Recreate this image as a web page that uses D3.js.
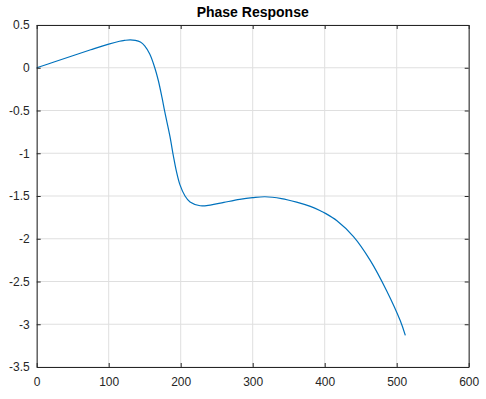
<!DOCTYPE html>
<html>
<head>
<meta charset="utf-8">
<script src="https://cdn.jsdelivr.net/npm/d3@7"></script>
<style>
  html, body { margin: 0; padding: 0; background: #fff; }
  svg { display: block; font-family: "Liberation Sans", Arial, sans-serif; }
</style>
</head>
<body>
<svg id="chart" width="486" height="399"></svg>
<script>
// frequency bin (x) and phase in radians (y)
const bins = [0, 25, 50, 75, 100, 115, 122, 130, 137, 144, 150, 157, 164, 169, 174, 178, 185, 190, 194, 199, 206, 213, 227, 241, 260, 282, 300, 317, 340, 361, 380, 394, 401, 417, 440, 463, 486, 505, 512];
const phase = [0, 0.07, 0.14, 0.21, 0.277, 0.31, 0.32, 0.327, 0.32, 0.30, 0.257, 0.16, 0.0, -0.152, -0.347, -0.52, -0.80, -1.04, -1.21, -1.37, -1.50, -1.57, -1.614, -1.606, -1.575, -1.54, -1.52, -1.509, -1.53, -1.572, -1.622, -1.673, -1.703, -1.79, -1.975, -2.25, -2.608, -2.96, -3.13];
const xTicks = [0, 100, 200, 300, 400, 500, 600];
const yTicks = [0.5, 0, -0.5, -1, -1.5, -2, -2.5, -3, -3.5];
const title = "Phase Response";

const margin = {left: 36.7, top: 25, right: 486 - 468.7, bottom: 399 - 367};
const width = 486 - margin.left - margin.right;
const height = 399 - margin.top - margin.bottom;

const svg = d3.select("#chart");
const g = svg.append("g").attr("transform", `translate(${margin.left},${margin.top})`);

const x = d3.scaleLinear().domain([0, 600]).range([0, width]);
const y = d3.scaleLinear().domain([-3.5, 0.5]).range([height, 0]);

// grid
g.append("g").selectAll("line").data(xTicks).enter().append("line")
  .attr("x1", d => x(d)).attr("x2", d => x(d))
  .attr("y1", 0).attr("y2", height)
  .attr("stroke", "#dfdfdf").attr("stroke-width", 1);
g.append("g").selectAll("line").data(yTicks).enter().append("line")
  .attr("x1", 0).attr("x2", width)
  .attr("y1", d => y(d)).attr("y2", d => y(d))
  .attr("stroke", "#dfdfdf").attr("stroke-width", 1);

// curve
const line = d3.line()
  .x((d, i) => x(bins[i]))
  .y(d => y(d))
  .curve(d3.curveCatmullRom.alpha(0.5));

g.append("path")
  .datum(phase)
  .attr("d", line)
  .attr("fill", "none")
  .attr("stroke", "#0072BD")
  .attr("stroke-width", 1.2);

// axes (ticks pointing inward, box on)
const fmt = d => String(d);
const axisStyle = sel => {
  sel.select(".domain").attr("stroke", "#262626");
  sel.selectAll(".tick line").attr("stroke", "#262626");
  sel.selectAll(".tick text").attr("fill", "#262626").style("font-size", "12px")
    .style("font-family", '"Liberation Sans", Arial, sans-serif');
};

g.append("g").attr("transform", `translate(0,${height})`)
  .call(d3.axisBottom(x).tickValues(xTicks).tickFormat(fmt).tickSizeInner(-4).tickSizeOuter(0).tickPadding(10))
  .call(axisStyle);
g.append("g")
  .call(d3.axisLeft(y).tickValues(yTicks).tickFormat(fmt).tickSizeInner(-4).tickSizeOuter(0).tickPadding(7))
  .call(axisStyle);
g.append("g")
  .call(d3.axisTop(x).tickValues(xTicks).tickFormat("").tickSizeInner(-4).tickSizeOuter(0))
  .call(axisStyle);
g.append("g").attr("transform", `translate(${width},0)`)
  .call(d3.axisRight(y).tickValues(yTicks).tickFormat("").tickSizeInner(-4).tickSizeOuter(0))
  .call(axisStyle);

// title
svg.append("text")
  .attr("x", margin.left + width / 2)
  .attr("y", 17)
  .attr("text-anchor", "middle")
  .style("font-size", "14px")
  .style("font-weight", "bold")
  .attr("fill", "#000")
  .text(title);
</script>
</body>
</html>
